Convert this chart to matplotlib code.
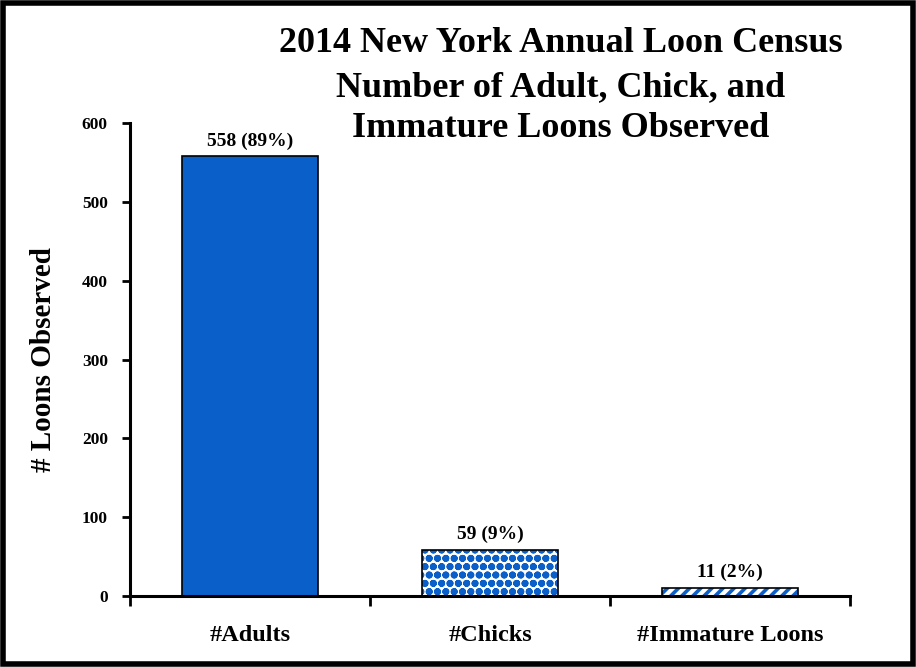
import matplotlib
matplotlib.use("Agg")
import matplotlib.pyplot as plt
from matplotlib.patches import Rectangle

categories = ["#Adults", "#Chicks", "#Immature Loons"]
values = [558, 59, 11]
labels = ["558 (89%)", "59 (9%)", "11 (2%)"]
yticks = [0, 100, 200, 300, 400, 500, 600]
title_lines = ["2014 New York Annual Loon Census", "Number of Adult, Chick, and", "Immature Loons Observed"]

plt.rcParams['font.family'] = ['Liberation Serif', 'DejaVu Serif']
plt.rcParams['font.weight'] = 'bold'
plt.rcParams['hatch.linewidth'] = 2.6

BLUE = '#0a5fc8'

fig = plt.figure(figsize=(9.16, 6.67), dpi=100)
ax = fig.add_axes([0.142, 0.106, 0.786, 0.710])

x = list(range(len(categories)))
w = 0.565
# Adults: solid
ax.bar(x[0], values[0], width=w, color=BLUE, edgecolor='black', linewidth=1.2, zorder=2)
# Chicks: dot pattern
ax.bar(x[1], values[1], width=w, color='white', edgecolor=BLUE, hatch='oo', linewidth=0, zorder=2)
ax.bar(x[1], values[1], width=w, fill=False, edgecolor='black', linewidth=1.2, zorder=3)
# Immature: diagonal
ax.bar(x[2], values[2], width=w, color='white', edgecolor=BLUE, hatch='///', linewidth=0, zorder=2)
ax.bar(x[2], values[2], width=w, fill=False, edgecolor='black', linewidth=1.2, zorder=3)

for xi, v, lab in zip(x, values, labels):
    ax.text(xi, v + 8, lab, ha='center', va='bottom', fontsize=14, fontweight='bold')

ax.set_xlim(-0.5, 2.5)
ax.set_ylim(0, 600)
ax.set_yticks(yticks)
ax.set_yticklabels([str(t) for t in yticks], fontsize=12.5, fontweight='bold')
ax.set_xticks([-0.5, 0.5, 1.5, 2.5])
ax.set_xticklabels([])
ax.tick_params(axis='x', direction='out', length=7, width=2)
ax.tick_params(axis='y', direction='out', length=6, width=2, pad=10)
for xi, c in zip(x, categories):
    ax.text(xi, -0.083, c, transform=ax.get_xaxis_transform(), ha='center', va='center',
            fontsize=17.5, fontweight='bold')

for s in ['top', 'right']:
    ax.spines[s].set_visible(False)
for s in ['left', 'bottom']:
    ax.spines[s].set_linewidth(2.2)

ax.set_ylabel("# Loons Observed", fontsize=21, fontweight='bold', labelpad=18)

ys = [0.935, 0.869, 0.807]
for yv, t in zip(ys, title_lines):
    fig.text(0.612, yv, t, ha='center', va='center', fontsize=26, fontweight='bold')

fig.patches.append(Rectangle((0.003, 0.004), 0.994, 0.992, transform=fig.transFigure,
                             fill=False, edgecolor='black', linewidth=4))

fig.savefig("out.png", dpi=100)
